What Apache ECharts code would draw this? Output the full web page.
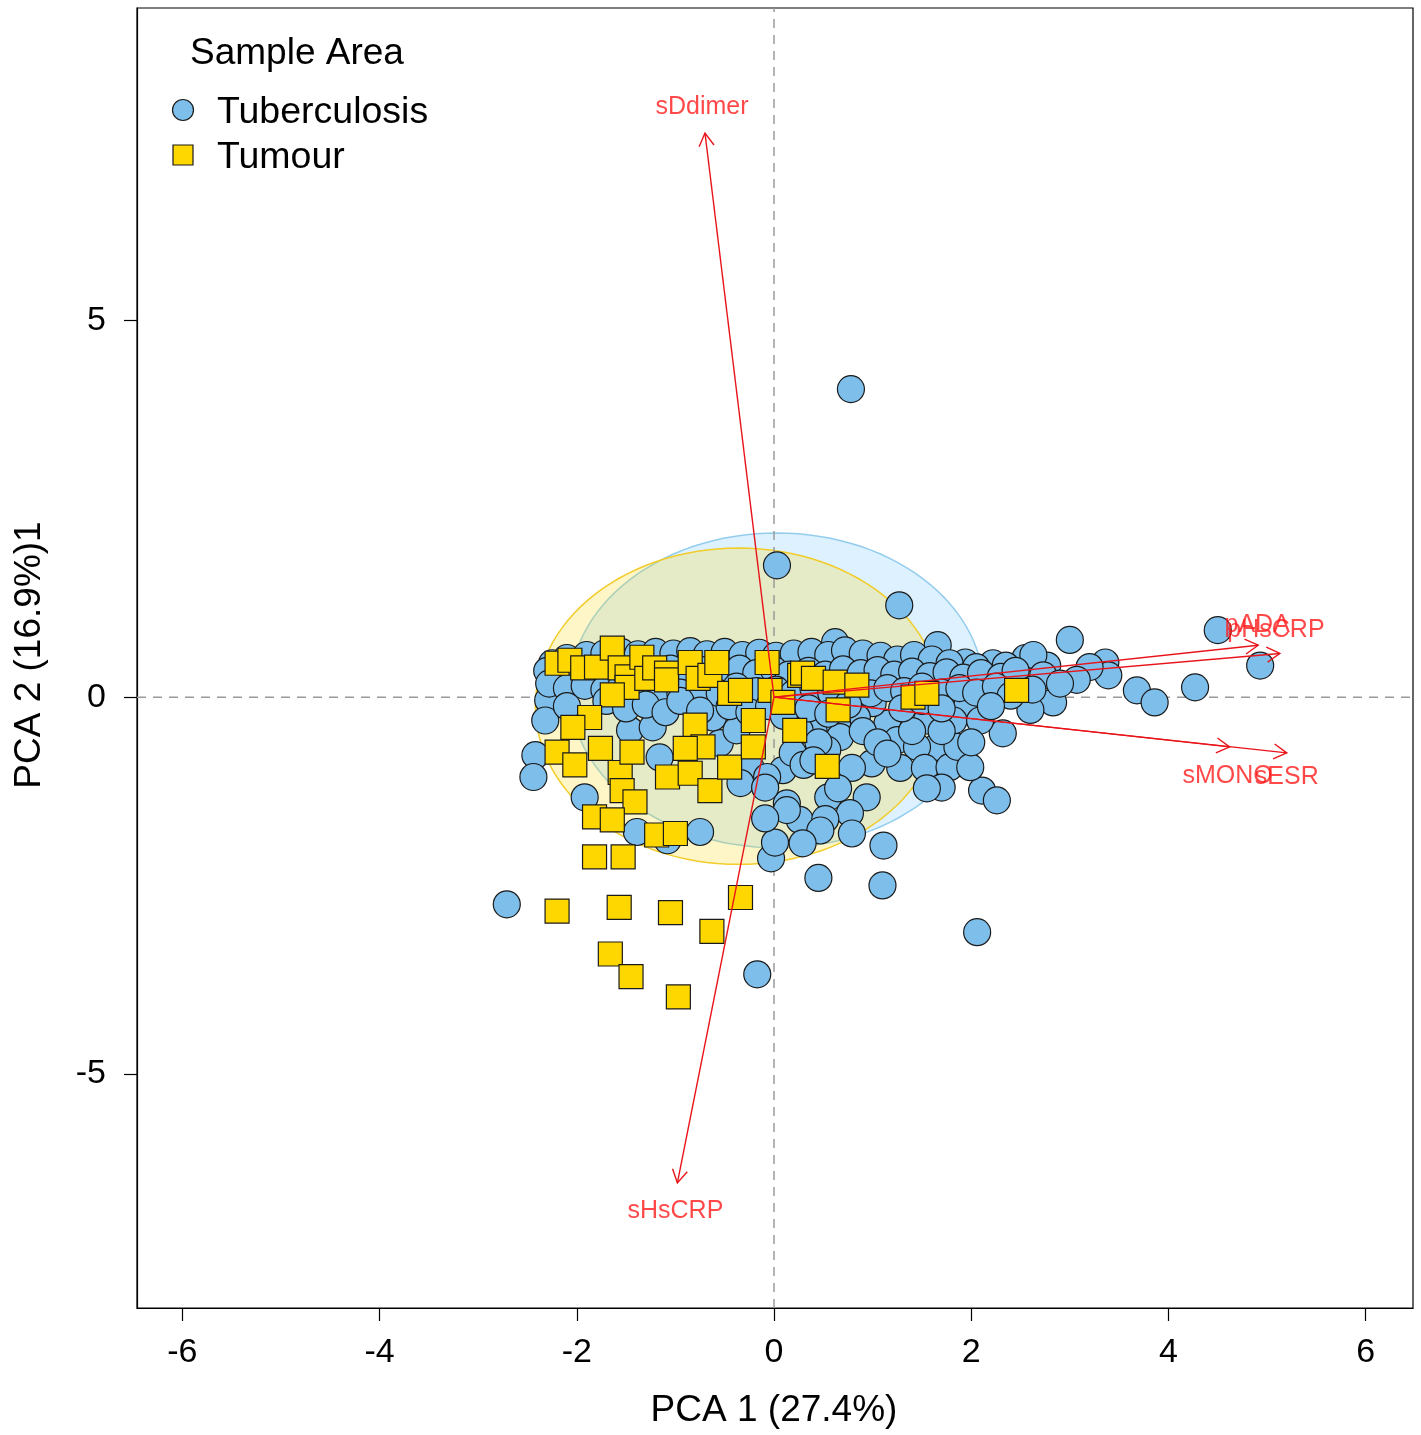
<!DOCTYPE html>
<html>
<head>
<meta charset="utf-8">
<script src="https://cdn.jsdelivr.net/npm/echarts@6/dist/echarts.min.js"></script>
<style>
  html, body { margin: 0; padding: 0; background: #ffffff; }
  #chart { width: 1421px; height: 1435px; }
</style>
</head>
<body>
<div id="chart"></div>
<script>
// ---- Axis ticks ----
const xTicks = [-6, -4, -2, 0, 2, 4, 6];
const yTicks = [-5, 0, 5];
const xLimits = [-6.46, 6.48];
const yLimits = [-8.11, 9.15];

// ---- PCA scores: [PC1, PC2] ----
const tuberculosis = [
  // outlying samples
  [0.78, 4.09], [0.03, 1.75], [1.27, 1.22], [3.00, 0.76], [4.50, 0.89], [4.93, 0.42],
  [4.27, 0.13], [3.68, 0.09], [3.86, -0.07], [3.36, 0.46], [3.39, 0.29], [3.20, 0.40],
  [3.07, 0.23], [2.83, -0.07], [2.60, -0.17], [2.77, 0.42], [2.55, 0.52], [2.63, 0.56],
  [2.73, 0.29], [2.49, 0.13], [2.22, 0.45], [1.94, 0.46], [1.66, 0.69], [0.62, 0.73],
  [2.32, -0.48], [2.11, -1.24], [2.26, -1.37], [2.06, -3.12], [1.10, -2.50], [1.11, -1.97],
  [0.45, -2.40], [-0.17, -3.68], [-2.71, -2.75], [-0.03, -2.14], [0.01, -1.93],
  // right-hand lower cloud
  [1.15, -0.35], [1.25, -0.57], [1.55, -0.31], [1.65, -0.66], [1.45, -0.66], [1.96, -0.11],
  [1.82, -0.31], [2.09, -0.31], [1.00, -0.08], [0.84, -0.27], [0.64, -0.35], [0.40, -0.44],
  [0.26, -0.44], [0.67, -0.53], [0.54, -0.70], [0.99, -0.88], [1.28, -0.94], [1.53, -0.94],
  [1.78, -0.93], [1.86, -0.66], [1.99, -0.93], [1.70, -1.20], [1.55, -1.21], [0.94, -1.33],
  [0.55, -1.33], [0.77, -1.54], [0.26, -1.63], [0.52, -1.62], [0.47, -1.77], [0.79, -1.81],
  [0.29, -1.94], [0.13, -1.41], [0.09, -0.97], [0.19, -0.74], [0.79, -0.94], [0.65, -1.21],
  [0.90, -0.45], [1.05, -0.60], [0.45, -0.60], [0.30, -0.90], [1.15, -0.75], [1.40, -0.45],
  [1.70, -0.45], [2.00, -0.60],
  // left-hand lower cloud
  [-1.46, -0.44], [-1.23, -0.40], [-1.16, -0.80], [-0.55, -0.61], [-0.62, -0.27], [-0.38, -0.44],
  [-0.24, -0.93], [-0.34, -1.14], [-0.07, -1.06], [0.13, -1.50], [0.40, -0.84], [-0.09, -1.61],
  [-0.09, -1.20], [-0.75, -1.79], [-1.08, -1.90], [-1.39, -1.79], [-1.92, -1.33], [-2.29, -0.04],
  [-2.32, -0.31], [-2.42, -0.77], [-2.44, -1.06],
  // dense band along PC1
  [-2.25, 0.45], [-2.10, 0.52], [-1.90, 0.56], [-1.72, 0.58], [-1.55, 0.60], [-1.38, 0.57],
  [-1.20, 0.60], [-1.02, 0.58], [-0.85, 0.61], [-0.68, 0.57], [-0.50, 0.60], [-0.32, 0.56],
  [-0.15, 0.59], [0.02, 0.55], [0.20, 0.58], [0.38, 0.60], [0.55, 0.56], [0.72, 0.62],
  [0.90, 0.58], [1.08, 0.55], [1.25, 0.50], [1.42, 0.56], [1.60, 0.50], [1.78, 0.45],
  [2.05, 0.40], [2.35, 0.42],
  [-2.30, 0.35], [-2.12, 0.30], [-1.95, 0.33], [-1.75, 0.28], [-1.58, 0.32], [-1.40, 0.36],
  [-1.22, 0.30], [-1.05, 0.38], [-0.88, 0.32], [-0.70, 0.36], [-0.52, 0.30], [-0.35, 0.38],
  [-0.18, 0.32], [0.00, 0.36], [0.15, 0.30], [0.35, 0.35], [0.52, 0.30], [0.70, 0.37],
  [0.88, 0.32], [1.05, 0.36], [1.22, 0.30], [1.40, 0.34], [1.58, 0.28], [1.75, 0.33],
  [1.92, 0.26], [2.10, 0.32], [2.30, 0.27], [2.45, 0.35],
  [-2.28, 0.18], [-2.10, 0.12], [-1.92, 0.15], [-1.72, 0.10], [-1.55, 0.14], [-1.35, 0.08],
  [-1.15, 0.12], [-0.95, 0.06], [-0.75, 0.12], [-0.55, 0.05], [-0.38, 0.14], [-0.18, 0.08],
  [0.02, 0.10], [0.20, 0.05], [0.40, 0.12], [0.58, 0.06], [0.78, 0.12], [0.98, 0.05],
  [1.15, 0.12], [1.32, 0.08], [1.50, 0.14], [1.70, 0.06], [1.88, 0.12], [2.05, 0.06],
  [2.25, 0.14], [2.40, 0.02], [2.62, 0.10], [2.90, 0.18],
  [-2.10, -0.12], [-1.70, -0.05], [-1.50, -0.15], [-1.30, -0.10], [-1.10, -0.20], [-0.95, -0.05],
  [-0.75, -0.18], [-0.45, -0.12], [-0.25, -0.20], [-0.05, -0.12], [0.10, -0.25], [0.35, -0.15],
  [0.55, -0.22], [0.75, -0.10], [1.30, -0.15], [1.50, -0.05], [1.70, -0.15], [2.20, -0.12]
];

const tumour = [
  [-2.20, 0.45], [-2.07, 0.49], [-1.94, 0.39], [-1.80, 0.40], [-1.64, 0.65], [-1.56, 0.39],
  [-1.49, 0.27], [-1.49, 0.13], [-1.34, 0.53], [-1.29, 0.25], [-1.21, 0.39], [-1.09, 0.32],
  [-1.09, 0.23], [-0.85, 0.46], [-0.77, 0.25], [-0.65, 0.29], [-0.58, 0.46], [-0.45, 0.05],
  [-0.34, 0.09], [-0.07, 0.46], [-0.04, 0.09], [0.09, -0.07], [0.26, 0.29], [0.29, 0.32],
  [0.40, 0.25], [0.62, 0.20], [0.84, 0.16], [1.41, 0.00], [1.55, 0.05], [2.46, 0.09],
  [-1.64, 0.03],
  [-1.87, -0.27], [-2.04, -0.40], [-2.20, -0.73], [-2.02, -0.90], [-1.76, -0.68], [-1.56, -1.00],
  [-1.44, -0.73], [-1.54, -1.24], [-1.41, -1.39], [-1.82, -1.59], [-1.64, -1.63], [-1.19, -1.83],
  [-1.00, -1.81], [-1.82, -2.12], [-1.53, -2.12], [-0.80, -0.37], [-0.72, -0.66], [-0.90, -0.68],
  [-1.08, -1.06], [-0.85, -1.01], [-0.65, -1.24], [-0.45, -0.93], [-0.21, -0.31], [-0.21, -0.66],
  [0.21, -0.44], [0.54, -0.92], [0.65, -0.17],
  [-2.20, -2.84], [-1.57, -2.79], [-1.05, -2.86], [-0.34, -2.66], [-0.63, -3.11], [-1.66, -3.41],
  [-1.45, -3.71], [-0.97, -3.98]
];

// ---- Variable loadings (arrow tips) and label anchors ----
const loadingNames = ['sDdimer', 'sHsCRP', 'pADA', 'pHsCRP', 'sMONO', 'sESR'];
const loadingTips = [[-0.70, 7.49], [-0.98, -6.45], [4.91, 0.69], [5.13, 0.58], [4.62, -0.66], [5.20, -0.74]];
const loadingLabelPos = [[-0.73, 7.84], [-1.00, -6.82], [4.90, 0.96], [5.09, 0.89], [4.60, -1.05], [5.20, -1.06]];

// ---- Group concentration ellipses ----
const ellipseGroups = ['Tuberculosis', 'Tumour'];
const ellipseCentres = [[0.03, 0.09], [-0.36, -0.12]];
const ellipseRadii = [[2.10, 2.09], [2.06, 2.10]];

// ---- Legend ----
const legendTitle = 'Sample Area';
const legendEntries = ['Tuberculosis', 'Tumour'];

const FONT = "'Liberation Sans', Arial, Helvetica, sans-serif";
const circleFill = '#7EBEEA';
const squareFill = '#FFD700';
const arrowRed = '#E8141A';

function ellipseSeries(i, fill, stroke, z) {
  return {
    type: 'custom',
    name: ellipseGroups[i] + ' ellipse',
    coordinateSystem: 'cartesian2d',
    silent: true,
    z: z,
    data: [ellipseCentres[i]],
    renderItem: function (params, api) {
      const cx = api.value(0), cy = api.value(1);
      const rx = ellipseRadii[i][0], ry = ellipseRadii[i][1];
      const pts = [];
      for (let k = 0; k < 120; k++) {
        const t = (k / 120) * Math.PI * 2;
        pts.push(api.coord([cx + rx * Math.cos(t), cy + ry * Math.sin(t)]));
      }
      return {
        type: 'polygon',
        shape: { points: pts },
        style: { fill: fill, stroke: stroke, lineWidth: 1.5 }
      };
    }
  };
}

const chart = echarts.init(document.getElementById('chart'), null, { renderer: 'canvas' });

const option = {
  animation: false,
  backgroundColor: '#ffffff',
  grid: {
    left: 137, right: 8, top: 8, bottom: 127,
    show: true, borderColor: '#000000', borderWidth: 1.2, backgroundColor: 'transparent'
  },
  xAxis: {
    type: 'value', min: xLimits[0], max: xLimits[1],
    axisLine: { show: true, onZero: false, lineStyle: { color: '#000', width: 1.2 } },
    axisTick: { show: true, customValues: xTicks, length: 13, lineStyle: { color: '#000', width: 1.2 } },
    axisLabel: { customValues: xTicks, fontSize: 34, color: '#000', fontFamily: FONT, margin: 28 },
    splitLine: { show: false }
  },
  yAxis: {
    type: 'value', min: yLimits[0], max: yLimits[1],
    axisLine: { show: true, onZero: false, lineStyle: { color: '#000', width: 1.2 } },
    axisTick: { show: true, customValues: yTicks, length: 13, lineStyle: { color: '#000', width: 1.2 } },
    axisLabel: { customValues: yTicks, fontSize: 34, color: '#000', fontFamily: FONT, margin: 31 },
    splitLine: { show: false }
  },
  graphic: [
    // legend block
    { type: 'text', x: 190, y: 54, style: { text: legendTitle, font: '37px ' + FONT, fill: '#000', verticalAlign: 'middle' } },
    { type: 'circle', shape: { cx: 183, cy: 110, r: 10.5 }, style: { fill: circleFill, stroke: '#1a1a1a', lineWidth: 1.2 } },
    { type: 'text', x: 217, y: 113, style: { text: legendEntries[0], font: '37.5px ' + FONT, fill: '#000', verticalAlign: 'middle' } },
    { type: 'rect', shape: { x: 173, y: 145, width: 20, height: 20 }, style: { fill: squareFill, stroke: '#1a1a1a', lineWidth: 1.2 } },
    { type: 'text', x: 217, y: 158, style: { text: legendEntries[1], font: '37.5px ' + FONT, fill: '#000', verticalAlign: 'middle' } },
    // axis titles
    { type: 'text', x: 774, y: 1411, style: { text: 'PCA 1 (27.4%)', font: '37px ' + FONT, fill: '#000', align: 'center', verticalAlign: 'middle' } },
    { type: 'text', x: 30, y: 655, rotation: Math.PI / 2, style: { text: 'PCA 2 (16.9%)1', font: '37px ' + FONT, fill: '#000', align: 'center', verticalAlign: 'middle' } }
  ],
  series: [
    ellipseSeries(0, 'rgba(135,206,250,0.28)', '#93CDEE', 1),
    ellipseSeries(1, 'rgba(255,215,0,0.22)', '#F2CC2A', 2),
    {
      type: 'line', name: 'ref-h', silent: true, symbol: 'none', z: 3,
      data: [[xLimits[0], 0], [xLimits[1], 0]],
      lineStyle: { color: '#9a9a9a', width: 1.5, type: [9, 7] }
    },
    {
      type: 'line', name: 'ref-v', silent: true, symbol: 'none', z: 3,
      data: [[0, yLimits[0]], [0, yLimits[1]]],
      lineStyle: { color: '#9a9a9a', width: 1.5, type: [9, 7] }
    },
    {
      type: 'scatter', name: 'Tuberculosis', z: 4,
      symbol: 'circle', symbolSize: 27,
      itemStyle: { color: circleFill, borderColor: '#1a1a1a', borderWidth: 1.2, opacity: 1 },
      data: tuberculosis
    },
    {
      type: 'scatter', name: 'Tumour', z: 5,
      symbol: 'rect', symbolSize: 24,
      itemStyle: { color: squareFill, borderColor: '#1a1a1a', borderWidth: 1.2, opacity: 1 },
      data: tumour
    },
    {
      type: 'custom', name: 'loadings', coordinateSystem: 'cartesian2d', silent: true, z: 6,
      data: loadingTips,
      renderItem: function (params, api) {
        const o = api.coord([0, 0]);
        const p = api.coord([api.value(0), api.value(1)]);
        const a = Math.atan2(p[1] - o[1], p[0] - o[0]);
        const L = 15, h = Math.PI / 6;
        const h1 = [p[0] - L * Math.cos(a - h), p[1] - L * Math.sin(a - h)];
        const h2 = [p[0] - L * Math.cos(a + h), p[1] - L * Math.sin(a + h)];
        return {
          type: 'group',
          children: [
            { type: 'line', shape: { x1: o[0], y1: o[1], x2: p[0], y2: p[1] }, style: { stroke: arrowRed, lineWidth: 1.4 } },
            { type: 'polyline', shape: { points: [h1, p, h2] }, style: { stroke: arrowRed, fill: null, lineWidth: 1.4 } }
          ]
        };
      }
    },
    {
      type: 'scatter', name: 'loading labels', silent: true, z: 7,
      symbolSize: 0,
      data: loadingNames.map((n, i) => ({ name: n, value: loadingLabelPos[i] })),
      label: {
        show: true, position: 'inside', formatter: p => p.name,
        color: '#FF1A1A', fontSize: 25, fontFamily: FONT
      }
    }
  ]
};

chart.setOption(option);
</script>
</body>
</html>
